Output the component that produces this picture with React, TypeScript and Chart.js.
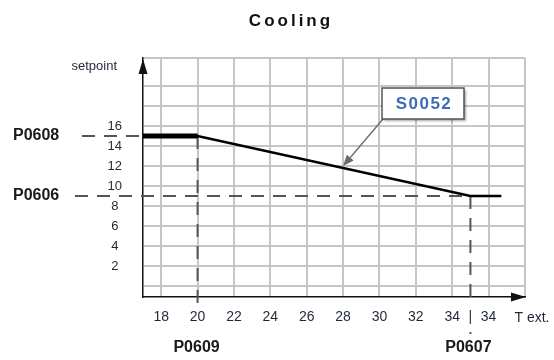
import React, { useEffect, useRef } from 'react';
import { Chart, registerables } from 'chart.js';

Chart.register(...registerables);

const TITLE = 'Cooling';
const Y_TITLE = 'setpoint';
const X_TITLE = 'T ext.';

// control curve S0052 (setpoint vs external temperature)
const CURVE_X = [17, 20, 35, 36.7];
const CURVE_Y = [15, 15, 9, 9];
const PLATEAU_X = [17, 20];
const PLATEAU_Y = [15, 15];

const X_TICKS = [18, 20, 22, 24, 26, 28, 30, 32, 34, 35, 36, 38];
const X_TICK_LABELS = ['18', '20', '22', '24', '26', '28', '30', '32', '34', '|', '34', ''];
const Y_TICKS = [0, 2, 4, 6, 8, 10, 12, 14, 16, 18, 20, 22.8];
const Y_TICK_LABELS = ['', '2', '4', '6', '8', '10', '12', '14', '16', '', '', ''];

const X_MIN = 17;
const X_MAX = 38;
const Y_MIN = -1.1;
const Y_MAX = 22.8;

const P0609_X = 20;
const P0607_X = 35;
const P0608_Y = 15;
const P0606_Y = 9;
const CURVE_LABEL = 'S0052';
const CURVE_LABEL_AT_X = 28;

const FONT = "'Liberation Sans', Arial, Helvetica, sans-serif";
const GRID = '#c6c6c6';
const TEXT = '#1e2838';

function curveYAt(xv: number): number {
  for (let i = 0; i < CURVE_X.length - 1; i++) {
    if (xv >= CURVE_X[i] && xv <= CURVE_X[i + 1]) {
      const t = (xv - CURVE_X[i]) / (CURVE_X[i + 1] - CURVE_X[i]);
      return CURVE_Y[i] + t * (CURVE_Y[i + 1] - CURVE_Y[i]);
    }
  }
  return CURVE_Y[CURVE_Y.length - 1];
}

const guidesPlugin = {
  id: 'guides',
  beforeDatasetsDraw(chart: any) {
    const { ctx, chartArea, scales } = chart;
    const x = scales.x;
    const y = scales.y;
    const seg = (x1: number, y1: number, x2: number, y2: number) => {
      ctx.beginPath();
      ctx.moveTo(x1, y1);
      ctx.lineTo(x2, y2);
      ctx.stroke();
    };
    ctx.save();
    ctx.strokeStyle = '#555';
    ctx.lineWidth = 2;
    ctx.setLineDash([13, 9]);
    const y9 = y.getPixelForValue(P0606_Y);
    const y15 = y.getPixelForValue(P0608_Y);
    const x20 = x.getPixelForValue(P0609_X);
    const x35 = x.getPixelForValue(P0607_X);
    seg(75, y9, x35, y9);
    seg(82, y15, chartArea.left, y15);
    seg(x20, y15, x20, chartArea.bottom + 6);
    seg(x35, y9, x35, chartArea.bottom + 6);
    ctx.setLineDash([]);
    ctx.fillStyle = '#555';
    ctx.fillRect(x35 - 1, chartArea.bottom + 35, 2, 2);
    ctx.restore();
  },
};

const decorPlugin = {
  id: 'decor',
  afterDraw(chart: any) {
    const { ctx, chartArea, scales } = chart;
    const x = scales.x;
    const y = scales.y;
    ctx.save();

    // axis arrows
    ctx.fillStyle = '#111';
    ctx.beginPath();
    ctx.moveTo(chartArea.left, chartArea.top + 1);
    ctx.lineTo(chartArea.left - 4.5, chartArea.top + 16);
    ctx.lineTo(chartArea.left + 4.5, chartArea.top + 16);
    ctx.closePath();
    ctx.fill();
    ctx.beginPath();
    ctx.moveTo(chartArea.right + 1, chartArea.bottom);
    ctx.lineTo(chartArea.right - 14, chartArea.bottom - 4.5);
    ctx.lineTo(chartArea.right - 14, chartArea.bottom + 4.5);
    ctx.closePath();
    ctx.fill();

    // title
    ctx.fillStyle = '#111';
    ctx.textBaseline = 'middle';
    ctx.textAlign = 'center';
    ctx.font = `bold 17px ${FONT}`;
    (ctx as any).letterSpacing = '3px';
    ctx.fillText(TITLE, 291, 21);
    (ctx as any).letterSpacing = '0px';

    // axis titles
    ctx.fillStyle = TEXT;
    ctx.font = `13px ${FONT}`;
    ctx.textAlign = 'right';
    ctx.fillText(Y_TITLE, 117, 66);
    ctx.font = `14px ${FONT}`;
    ctx.textAlign = 'center';
    ctx.fillText(X_TITLE, 532, 318);

    // parameter names
    ctx.fillStyle = '#1a1a1a';
    ctx.font = `bold 16px ${FONT}`;
    ctx.textAlign = 'left';
    ctx.fillText('P0608', 13, y.getPixelForValue(P0608_Y));
    ctx.fillText('P0606', 13, y.getPixelForValue(P0606_Y));
    ctx.textAlign = 'center';
    ctx.fillText('P0609', x.getPixelForValue(P0609_X) - 1, 348);
    ctx.fillText('P0607', x.getPixelForValue(P0607_X) - 2, 348);

    // curve label with arrow
    const bx = 382, by = 88, bw = 82, bh = 31;
    const tx = x.getPixelForValue(CURVE_LABEL_AT_X);
    const ty = y.getPixelForValue(curveYAt(CURVE_LABEL_AT_X)) - 2;
    const sx = bx + 1, sy = by + bh;
    ctx.strokeStyle = '#6a6a6a';
    ctx.fillStyle = '#6a6a6a';
    ctx.lineWidth = 1.5;
    const ang = Math.atan2(ty - sy, tx - sx);
    const hl = 11, hw = 4.5;
    const bxp = tx - hl * Math.cos(ang), byp = ty - hl * Math.sin(ang);
    ctx.beginPath();
    ctx.moveTo(sx, sy);
    ctx.lineTo(bxp, byp);
    ctx.stroke();
    ctx.beginPath();
    ctx.moveTo(tx, ty);
    ctx.lineTo(bxp + hw * Math.sin(ang), byp - hw * Math.cos(ang));
    ctx.lineTo(bxp - hw * Math.sin(ang), byp + hw * Math.cos(ang));
    ctx.closePath();
    ctx.fill();

    ctx.shadowColor = 'rgba(0,0,0,0.35)';
    ctx.shadowBlur = 2;
    ctx.shadowOffsetX = 1.5;
    ctx.shadowOffsetY = 1.5;
    ctx.fillStyle = '#fff';
    ctx.fillRect(bx, by, bw, bh);
    ctx.shadowColor = 'transparent';
    ctx.strokeStyle = '#555';
    ctx.lineWidth = 1.5;
    ctx.strokeRect(bx, by, bw, bh);
    ctx.fillStyle = '#3c6cb4';
    ctx.font = `bold 17px ${FONT}`;
    (ctx as any).letterSpacing = '1.5px';
    ctx.textAlign = 'center';
    ctx.fillText(CURVE_LABEL, bx + bw / 2 + 1, by + bh / 2 + 1);
    (ctx as any).letterSpacing = '0px';

    ctx.restore();
  },
};

export default function App() {
  const ref = useRef<HTMLCanvasElement | null>(null);

  useEffect(() => {
    if (!ref.current) return;
    const chart = new Chart(ref.current, {
      type: 'line',
      data: {
        datasets: [
          {
            data: PLATEAU_X.map((v, i) => ({ x: v, y: PLATEAU_Y[i] })),
            borderColor: '#000',
            borderWidth: 5,
            pointRadius: 0,
            tension: 0,
          },
          {
            data: CURVE_X.map((v, i) => ({ x: v, y: CURVE_Y[i] })),
            borderColor: '#000',
            borderWidth: 2.6,
            pointRadius: 0,
            tension: 0,
          },
        ],
      },
      options: {
        animation: false,
        responsive: false,
        events: [],
        layout: { padding: { left: 0, top: 58, right: 29, bottom: 0 } },
        plugins: {
          legend: { display: false },
          tooltip: { enabled: false },
          title: { display: false },
        },
        scales: {
          x: {
            type: 'linear',
            min: X_MIN,
            max: X_MAX,
            afterBuildTicks: (scale: any) => {
              scale.ticks = X_TICKS.map((v) => ({ value: v }));
            },
            afterFit: (scale: any) => {
              scale.height = 63;
            },
            grid: {
              color: (c: any) => (c.tick && c.tick.value === P0607_X ? 'rgba(0,0,0,0)' : GRID),
              lineWidth: 2,
              drawTicks: false,
            },
            border: { display: true, color: '#111', width: 1.5 },
            ticks: {
              autoSkip: false,
              maxRotation: 0,
              padding: 12,
              color: TEXT,
              font: { family: FONT, size: 14 },
              callback: (_v: any, i: number) => X_TICK_LABELS[i],
            },
          },
          y: {
            type: 'linear',
            min: Y_MIN,
            max: Y_MAX,
            afterBuildTicks: (scale: any) => {
              scale.ticks = Y_TICKS.map((v) => ({ value: v }));
            },
            afterFit: (scale: any) => {
              scale.width = 143;
            },
            grid: { color: GRID, lineWidth: 2, drawTicks: false },
            border: { display: true, color: '#111', width: 1.5 },
            ticks: {
              autoSkip: false,
              padding: 21,
              color: TEXT,
              font: { family: FONT, size: 13 },
              callback: (_v: any, i: number) => {
                const s = Y_TICK_LABELS[i];
                return s.length === 1 ? s + ' ' : s;
              },
            },
          },
        },
      },
      plugins: [guidesPlugin, decorPlugin],
    } as any);
    return () => chart.destroy();
  }, []);

  return (
    <div style={{ position: 'absolute', left: 0, top: 0, width: 554, height: 360, background: '#fff' }}>
      <canvas ref={ref} width={554} height={360} style={{ display: 'block' }} />
    </div>
  );
}
